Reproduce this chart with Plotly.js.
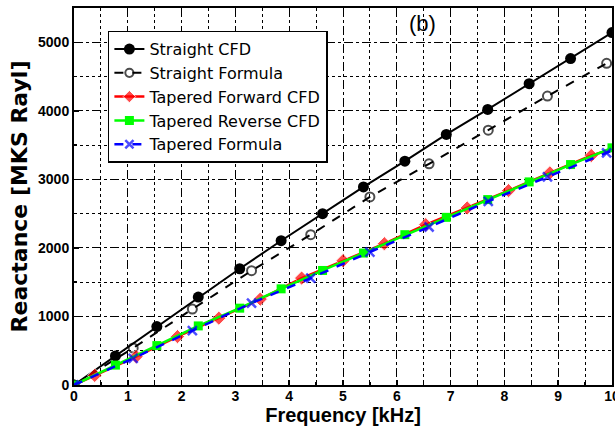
<!DOCTYPE html>
<html>
<head>
<meta charset="utf-8">
<script src="https://cdn.plot.ly/plotly-3.0.1.min.js"></script>
<style>html,body{margin:0;padding:0;background:#fff;}#chart{width:615px;height:427px;}</style>
</head>
<body>
<div id="chart"></div>
<script>
// Straight CFD
const strCfdX = [0, 0.77, 1.54, 2.31, 3.08, 3.85, 4.62, 5.38, 6.15, 6.92, 7.69, 8.46, 9.23, 10];
const strCfdY = [0, 424, 852, 1282, 1696, 2105, 2500, 2890, 3265, 3655, 4020, 4396, 4762, 5142];
// Straight Formula
const strFormX = [0, 1.1, 2.2, 3.3, 4.4, 5.5, 6.6, 7.7, 8.8, 9.9, 10];
const strFormY = [0, 540, 1107, 1667, 2193, 2744, 3227, 3718, 4215, 4693, 4740];
// Tapered Forward CFD
const tapFwdX = [0, 0.385, 1.154, 1.923, 2.692, 3.462, 4.231, 5.0, 5.769, 6.538, 7.308, 8.077, 8.846, 9.615, 10];
const tapFwdY = [0, 140, 414, 706, 975, 1253, 1560, 1813, 2061, 2339, 2583, 2836, 3095, 3348, 3440];
// Tapered Reverse CFD
const tapRevX = [0, 0.77, 1.54, 2.31, 3.08, 3.85, 4.62, 5.38, 6.15, 6.92, 7.69, 8.46, 9.23, 10];
const tapRevY = [0, 290, 575, 862, 1121, 1403, 1671, 1925, 2193, 2446, 2705, 2963, 3216, 3460];
// Tapered Formula
const tapFormX = [0, 1.1, 2.2, 3.3, 4.4, 5.5, 6.6, 7.7, 8.8, 9.9, 10];
const tapFormY = [0, 390, 794, 1194, 1560, 1940, 2305, 2680, 3036, 3387, 3420];

const seriesNames = ["Straight CFD", "Straight Formula", "Tapered Forward CFD", "Tapered Reverse CFD", "Tapered Formula"];
const xTickVals = [0,1,2,3,4,5,6,7,8,9,10];
const yTickVals = [0,1000,2000,3000,4000,5000];

const FONT = "Liberation Sans, Arial, Helvetica, sans-serif";

function sizes(n, s, hideFirst, hideLast) {
  const a = new Array(n).fill(s);
  if (hideFirst) a[0] = 0;
  if (hideLast) a[n-1] = 0;
  return a;
}

const traces = [
  {x: strCfdX, y: strCfdY, name: seriesNames[0], mode: 'lines+markers',
   line: {color: '#000', width: 2},
   marker: {symbol: 'circle', color: '#000', size: 11}},
  {x: strFormX, y: strFormY, name: seriesNames[1], mode: 'lines+markers',
   line: {color: '#000', width: 2, dash: 'dash'},
   marker: {symbol: 'circle-open', color: '#000', size: sizes(strFormX.length, 9, false, true), line: {width: 2, color: '#000'}}},
  {x: tapFwdX, y: tapFwdY, name: seriesNames[2], mode: 'lines+markers',
   line: {color: '#ff0000', width: 2.5},
   marker: {symbol: 'diamond', color: '#ff0000', size: sizes(tapFwdX.length, 11, true, true)}},
  {x: tapRevX, y: tapRevY, name: seriesNames[3], mode: 'lines+markers',
   line: {color: '#00ff00', width: 2.5},
   marker: {symbol: 'square', color: '#00ff00', size: 9}},
  {x: tapFormX, y: tapFormY, name: seriesNames[4], mode: 'lines+markers',
   line: {color: '#0000ff', width: 2.5, dash: 'dash'},
   marker: {symbol: 'x-thin-open', color: '#0000ff', size: sizes(tapFormX.length, 9, false, true), line: {width: 2.5, color: '#0000ff'}}}
];

const layout = {
  width: 615, height: 427,
  margin: {l: 74, r: 3, t: 8, b: 42, pad: 0},
  paper_bgcolor: '#fff', plot_bgcolor: '#fff',
  font: {family: FONT, color: '#000'},
  showlegend: true,
  legend: {
    x: 0.063, y: 0.94, xanchor: 'left', yanchor: 'top',
    bgcolor: '#fff', bordercolor: '#000', borderwidth: 1.5,
    font: {family: 'DejaVu Sans, ' + FONT, size: 16, color: '#000'},
    itemwidth: 30, tracegroupgap: 0
  },
  xaxis: {
    range: [0, 10], tickvals: xTickVals, ticktext: xTickVals.map(String),
    showline: true, linecolor: '#000', linewidth: 2, mirror: true,
    ticks: 'inside', ticklen: 5, tickwidth: 1.5, tickcolor: '#000',
    showgrid: true, gridcolor: '#000', gridwidth: 1, griddash: 'dash',
    zeroline: false, ticklabeloverflow: 'allow', ticklabelstandoff: -3,
    minor: {dtick: 0.5, showgrid: true, gridcolor: '#000', gridwidth: 1, griddash: 'dot', ticks: 'inside', ticklen: 3, tickcolor: '#000'},
    tickfont: {family: FONT, size: 14, color: '#000', weight: 'bold'},
    title: {text: '<b>Frequency [kHz]</b>', font: {family: FONT, size: 20, color: '#000'}, standoff: 0}
  },
  yaxis: {
    range: [0, 5500], tickvals: yTickVals, ticktext: yTickVals.map(String),
    showline: true, linecolor: '#000', linewidth: 2, mirror: true,
    ticks: 'inside', ticklen: 5, tickwidth: 1.5, tickcolor: '#000',
    showgrid: true, gridcolor: '#000', gridwidth: 1, griddash: 'dash',
    zeroline: false,
    minor: {dtick: 500, showgrid: true, gridcolor: '#000', gridwidth: 1, griddash: 'dot', ticks: 'inside', ticklen: 3, tickcolor: '#000'},
    tickfont: {family: FONT, size: 14, color: '#000', weight: 'bold'},
    title: {text: '<b>Reactance [MKS Rayl]</b>', font: {family: 'DejaVu Sans, ' + FONT, size: 22, color: '#000'}, standoff: 4}
  },
  annotations: [{
    xref: 'paper', yref: 'paper', x: 0.647, y: 0.96, xanchor: 'center', yanchor: 'middle',
    text: '(b)', showarrow: false, font: {family: FONT, size: 22, color: '#000'}
  }]
};

Plotly.newPlot('chart', traces, layout, {displayModeBar: false, staticPlot: true});
</script>
</body>
</html>
